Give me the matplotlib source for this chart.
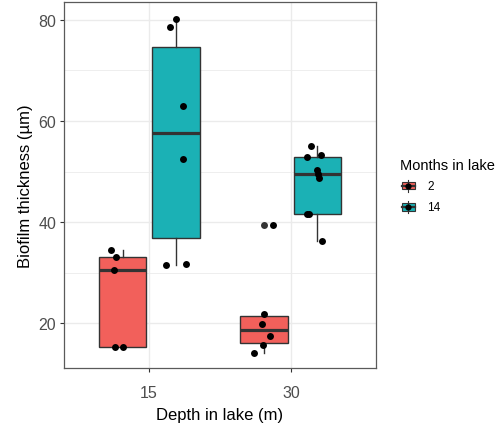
import matplotlib
matplotlib.use("Agg")
import matplotlib.pyplot as plt
from matplotlib.patches import Rectangle
from matplotlib.lines import Line2D

plt.rcParams['font.family'] = ['Liberation Sans', 'DejaVu Sans']

# Categories
depths = ["15", "30"]
months = ["2", "14"]
fill_colors = ["#F2605B", "#1BB1B5"]

# Biofilm thickness (µm) per sample, grouped by depth and months in lake
thickness_15_2 = [34.6, 33.1, 30.6, 15.4, 15.4]
thickness_15_14 = [80.1, 78.6, 62.9, 52.4, 31.6, 31.7]
thickness_30_2 = [21.9, 19.9, 17.6, 15.7, 14.1, 39.4]
thickness_30_14 = [55.0, 52.8, 53.3, 50.3, 49.6, 48.8, 41.7, 41.7, 36.2]

# Horizontal jitter applied to each sample point (category units)
jitter_15_2 = [-0.079, -0.044, -0.061, -0.056, 0.002]
jitter_15_14 = [0.0, -0.042, 0.051, 0.051, -0.065, 0.070]
jitter_30_2 = [0.0, -0.019, 0.037, -0.012, -0.070, 0.058]
jitter_30_14 = [-0.048, -0.072, 0.022, -0.006, 0.004, 0.011, -0.072, -0.060, 0.034]

groups = [
    (0, 0, thickness_15_2, jitter_15_2),
    (0, 1, thickness_15_14, jitter_15_14),
    (1, 0, thickness_30_2, jitter_30_2),
    (1, 1, thickness_30_14, jitter_30_14),
]

DARK = "#333333"
GRID = "#EBEBEB"
dodge = 0.375
box_w = 0.337

fig = plt.figure(figsize=(5.0, 4.27), dpi=100)
ax = fig.add_axes([64 / 500, 58 / 427, 312 / 500, 366 / 427])

for di, mi, vals, jit in groups:
    pos = di + 1 + (mi - 0.5) * dodge
    ax.boxplot(
        [vals], positions=[pos], widths=box_w, patch_artist=True,
        showcaps=False, whis=1.5, zorder=3,
        boxprops=dict(facecolor=fill_colors[mi], edgecolor=DARK, linewidth=1.0),
        medianprops=dict(color=DARK, linewidth=2.3, solid_capstyle='butt'),
        whiskerprops=dict(color=DARK, linewidth=1.0),
        flierprops=dict(marker='o', markerfacecolor=DARK, markeredgecolor='none',
                        markersize=5.0),
    )
    xs = [pos + j for j in jit]
    ax.plot(xs, vals, 'o', color='black', markersize=5.0, markeredgewidth=0,
            zorder=4, linestyle='none')

ax.set_xlim(0.4, 2.6)
ax.set_ylim(11.2, 83.5)
ax.set_xticks([1, 2])
ax.set_xticklabels(depths)
ax.set_yticks([20, 40, 60, 80])
ax.set_yticks([30, 50, 70], minor=True)
ax.set_axisbelow(True)
ax.grid(which='major', color=GRID, linewidth=1.0)
ax.grid(which='minor', axis='y', color=GRID, linewidth=0.6)
ax.tick_params(axis='both', which='major', length=3.2, width=0.8, color=DARK,
               labelcolor='#4D4D4D', labelsize=11.5)
ax.tick_params(axis='x', pad=9)
ax.tick_params(axis='y', pad=2.5)
ax.tick_params(which='minor', length=0)
for sp in ax.spines.values():
    sp.set_color('#5a5a5a')
    sp.set_linewidth(0.9)

ax.set_xlabel("Depth in lake (m)", fontsize=12, labelpad=5)
ax.set_ylabel("Biofilm thickness (µm)", fontsize=12, labelpad=4)

# Legend drawn in figure pixel space
lax = fig.add_axes([0, 0, 1, 1])
lax.set_xlim(0, 500)
lax.set_ylim(427, 0)
lax.axis('off')
lax.text(400.5, 170, "Months in lake", fontsize=10.5, va='baseline', ha='left')
key_centers = [186.7, 208.0]
for lbl, col, cy in zip(months, fill_colors, key_centers):
    cx = 408.0
    lax.add_line(Line2D([cx, cx], [cy - 5.8, cy + 5.8], color=DARK, lw=0.8))
    lax.add_patch(Rectangle((cx - 6.5, cy - 3.7), 13.0, 7.4, facecolor=col,
                            edgecolor=DARK, lw=0.8))
    lax.add_line(Line2D([cx - 6.5, cx + 6.5], [cy, cy], color=DARK, lw=1.6))
    lax.plot([cx], [cy], 'o', color='black', markersize=4.5, markeredgewidth=0)
    lax.text(427.5, cy, lbl, fontsize=8.5, va='center', ha='left')

fig.savefig("out.png", dpi=100)
